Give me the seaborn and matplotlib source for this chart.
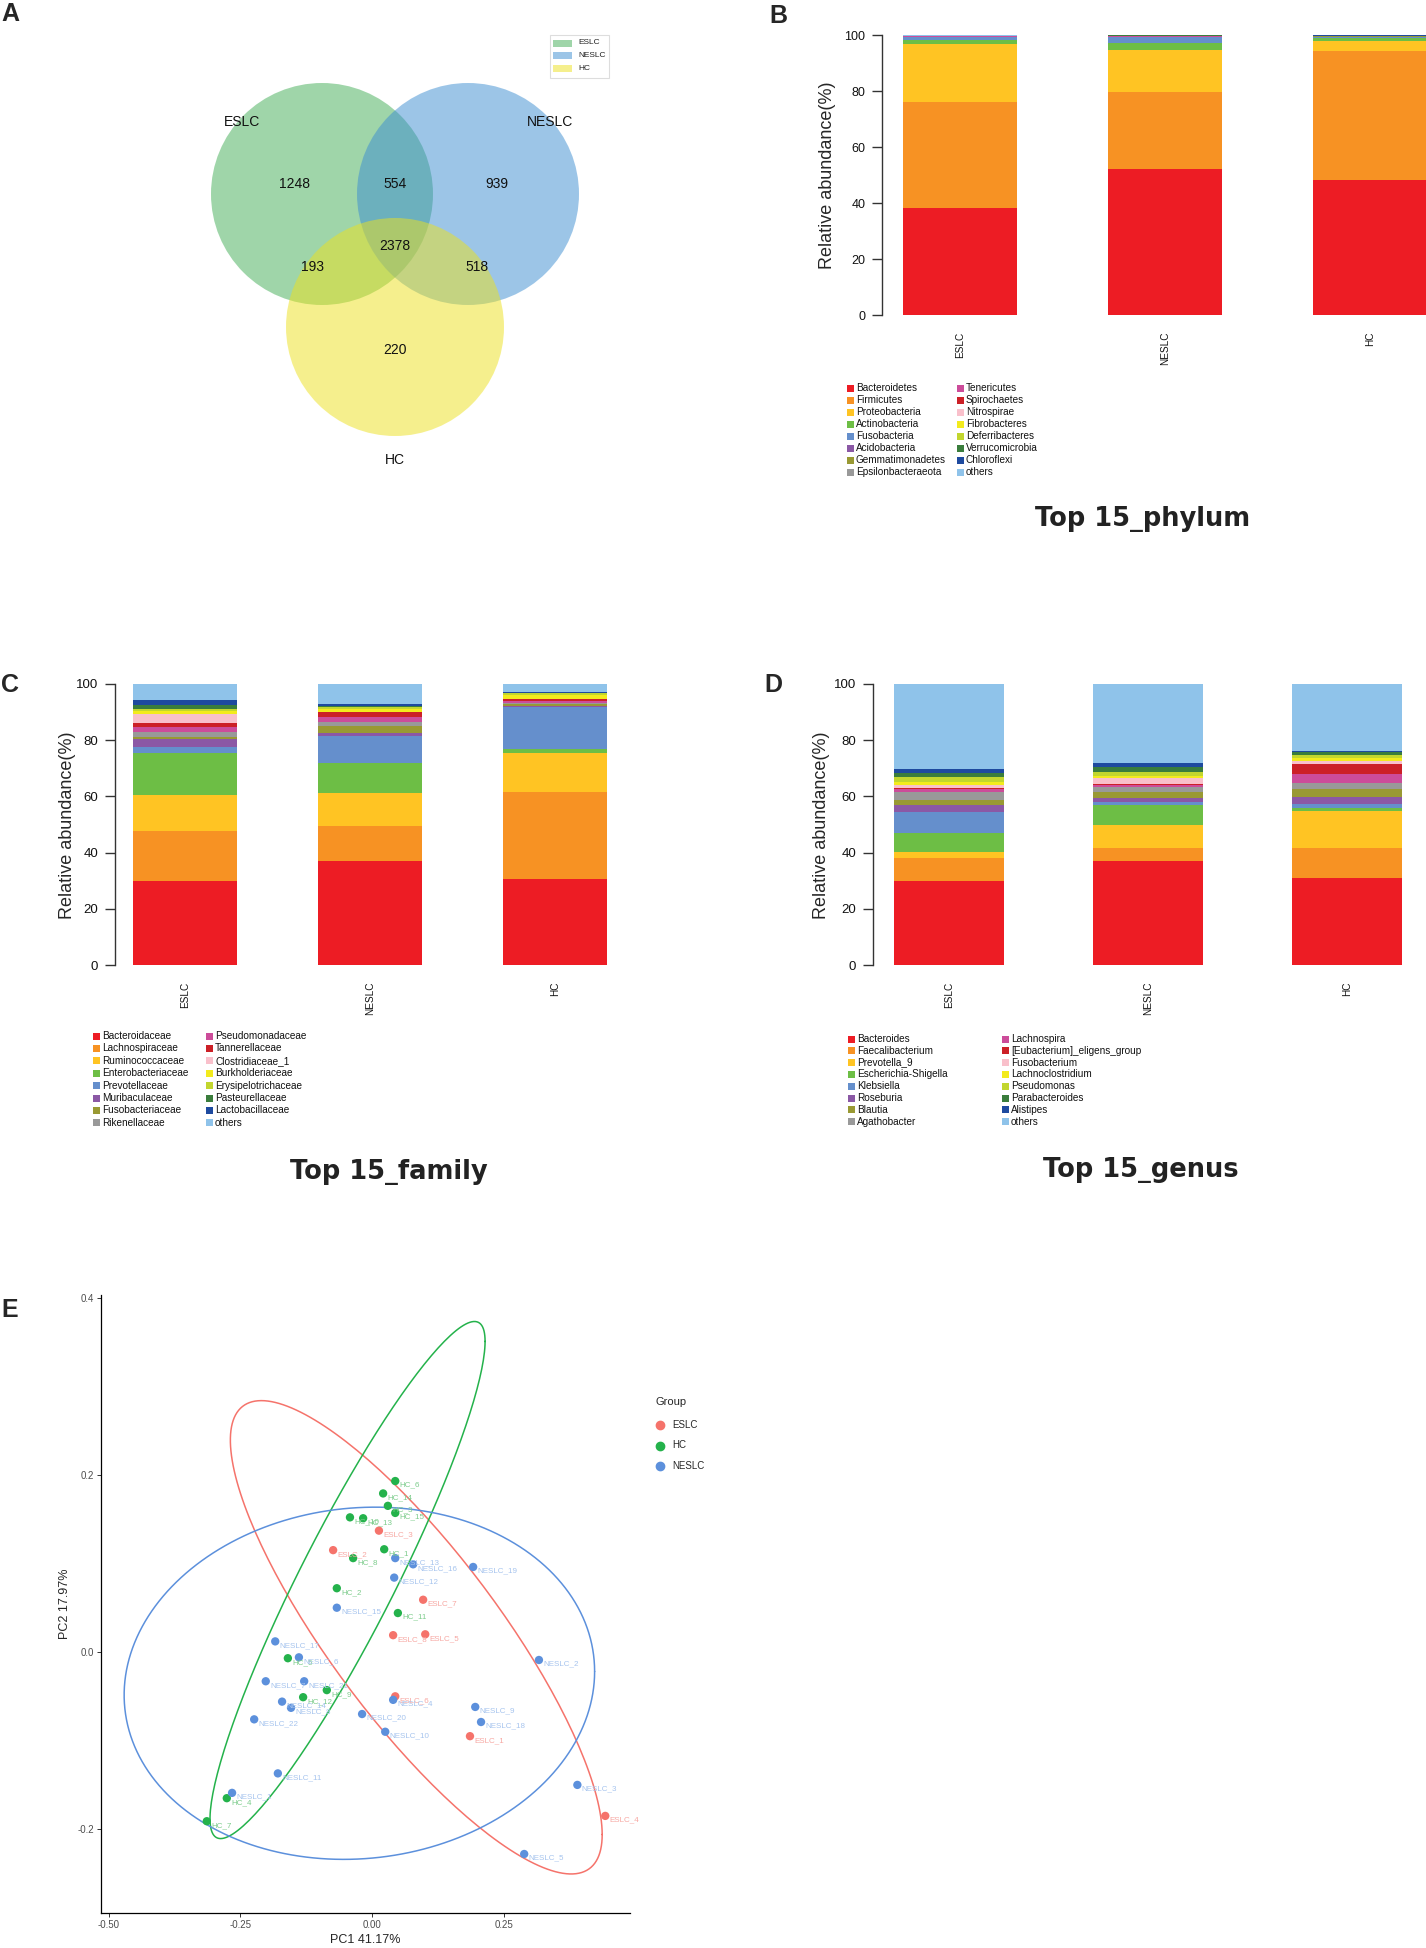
import numpy as np
import pandas as pd
import matplotlib
matplotlib.use("Agg")
import matplotlib.pyplot as plt
from matplotlib.patches import Circle, Rectangle
from matplotlib.lines import Line2D
import seaborn as sns

# ---------------- data ----------------
groups = ["ESLC", "NESLC", "HC"]

# Venn counts (A)
venn_sets = ["ESLC", "NESLC", "HC"]
venn_regions = ["ESLC", "ESLC&NESLC", "NESLC", "ESLC&NESLC&HC", "ESLC&HC", "NESLC&HC", "HC"]
venn_counts = [1248, 554, 939, 2378, 193, 518, 220]

# Top 15 phylum (B), relative abundance %
phylum_taxa = ["Bacteroidetes", "Firmicutes", "Proteobacteria", "Actinobacteria", "Fusobacteria",
               "Acidobacteria", "Gemmatimonadetes", "Epsilonbacteraeota", "Tenericutes", "Spirochaetes",
               "Nitrospirae", "Fibrobacteres", "Deferribacteres", "Verrucomicrobia", "Chloroflexi", "others"]
phylum_eslc = [38.1, 37.9, 20.8, 1.4, 1.1, 0.05, 0.05, 0.05, 0.1, 0.05, 0.02, 0.02, 0.02, 0.1, 0.03, 0.21]
phylum_neslc = [52.0, 27.8, 14.8, 2.4, 2.2, 0.05, 0.05, 0.05, 0.3, 0.05, 0.02, 0.02, 0.02, 0.1, 0.02, 0.12]
phylum_hc = [48.2, 46.0, 3.8, 0.9, 0.5, 0.05, 0.05, 0.05, 0.1, 0.05, 0.02, 0.02, 0.02, 0.05, 0.02, 0.17]

# Top 15 family (C)
family_taxa = ["Bacteroidaceae", "Lachnospiraceae", "Ruminococcaceae", "Enterobacteriaceae", "Prevotellaceae",
               "Muribaculaceae", "Fusobacteriaceae", "Rikenellaceae", "Pseudomonadaceae", "Tannerellaceae",
               "Clostridiaceae_1", "Burkholderiaceae", "Erysipelotrichaceae", "Pasteurellaceae",
               "Lactobacillaceae", "others"]
family_eslc = [29.9, 17.8, 12.8, 14.8, 2.4, 2.6, 0.9, 1.8, 1.6, 1.4, 3.3, 1.1, 0.7, 1.3, 1.9, 5.7]
family_neslc = [37.1, 12.5, 11.5, 10.7, 9.7, 0.9, 2.8, 1.4, 1.8, 1.5, 0.2, 0.9, 0.9, 0.4, 0.7, 7.0]
family_hc = [30.5, 31.0, 13.8, 1.6, 15.0, 0.4, 0.5, 0.5, 0.5, 0.7, 0.3, 1.3, 0.6, 0.2, 0.2, 2.9]

# Top 15 genus (D)
genus_taxa = ["Bacteroides", "Faecalibacterium", "Prevotella_9", "Escherichia-Shigella", "Klebsiella",
              "Roseburia", "Blautia", "Agathobacter", "Lachnospira", "[Eubacterium]_eligens_group",
              "Fusobacterium", "Lachnoclostridium", "Pseudomonas", "Parabacteroides", "Alistipes", "others"]
genus_eslc = [29.9, 8.3, 1.9, 6.8, 7.7, 2.3, 1.8, 3.0, 0.8, 0.6, 0.9, 1.2, 1.8, 1.2, 1.6, 30.2]
genus_neslc = [37.1, 4.6, 8.1, 7.1, 1.2, 1.4, 2.2, 1.8, 0.5, 0.3, 2.1, 0.9, 1.5, 1.5, 1.5, 28.2]
genus_hc = [30.8, 10.7, 13.3, 1.0, 1.5, 2.5, 3.0, 2.0, 3.2, 3.5, 1.0, 1.2, 1.2, 0.8, 0.6, 23.7]

# PCoA (E)
pc_sample = ["ESLC_1", "ESLC_2", "ESLC_3", "ESLC_4", "ESLC_5", "ESLC_6", "ESLC_7", "ESLC_8",
             "HC_1", "HC_2", "HC_3", "HC_4", "HC_5", "HC_6", "HC_7", "HC_8", "HC_9", "HC_10",
             "HC_11", "HC_12", "HC_13", "HC_14", "HC_15",
             "NESLC_1", "NESLC_2", "NESLC_3", "NESLC_4", "NESLC_5", "NESLC_6", "NESLC_7", "NESLC_8",
             "NESLC_9", "NESLC_10", "NESLC_11", "NESLC_12", "NESLC_13", "NESLC_14", "NESLC_15",
             "NESLC_16", "NESLC_17", "NESLC_18", "NESLC_19", "NESLC_20", "NESLC_21", "NESLC_22"]
pc1 = [0.186, -0.074, 0.013, 0.443, 0.101, 0.044, 0.097, 0.040,
       0.023, -0.067, 0.030, -0.276, -0.160, 0.044, -0.314, -0.036, -0.086, -0.042,
       0.049, -0.131, -0.017, 0.021, 0.044,
       -0.266, 0.317, 0.390, 0.040, 0.289, -0.139, -0.202, -0.154,
       0.196, 0.025, -0.179, 0.042, 0.044, -0.171, -0.067,
       0.078, -0.184, 0.207, 0.192, -0.019, -0.129, -0.224]
pc2 = [-0.095, 0.115, 0.137, -0.185, 0.020, -0.050, 0.059, 0.019,
       0.116, 0.072, 0.165, -0.165, -0.007, 0.193, -0.191, 0.106, -0.043, 0.152,
       0.044, -0.051, 0.151, 0.179, 0.157,
       -0.159, -0.009, -0.150, -0.054, -0.228, -0.006, -0.033, -0.063,
       -0.062, -0.090, -0.137, 0.084, 0.106, -0.056, 0.050,
       0.099, 0.012, -0.079, 0.096, -0.070, -0.033, -0.076]

# ---------------- style ----------------
taxa_palette = ["#ED1C24", "#F79223", "#FFC423", "#6DBE45", "#658FCC", "#8B58A5", "#999933", "#999999",
                "#CC4C9A", "#CC2027", "#F9C0CB", "#F3EB1D", "#C2D62E", "#3A7D3C", "#1E4A9F", "#8FC3EA"]
venn_colors = {"ESLC": "#41AD55", "NESLC": "#3B8DD1", "HC": "#EDE11D"}
group_colors = {"ESLC": "#F5736B", "HC": "#24B24B", "NESLC": "#5C90DC"}
label_colors = {"ESLC": "#F7A7A2", "HC": "#7DCC8C", "NESLC": "#A6C4EE"}

sns.set_style("white")
plt.rcParams["font.family"] = ["Liberation Sans", "DejaVu Sans"]

W, H = 1426, 1948
fig = plt.figure(figsize=(W / 100, H / 100), dpi=100)


def box(left, top, right, bottom):
    return fig.add_axes([left / W, 1 - bottom / H, (right - left) / W, (bottom - top) / H])


def ftext(x, y, s, **kw):
    fig.text(x / W, 1 - y / H, s, **kw)


# panel letters
for letter, (lx, ly) in {"A": (10, 14), "B": (778, 16), "C": (10, 685), "D": (773, 685), "E": (10, 1310)}.items():
    ftext(lx, ly, letter, fontsize=18, fontweight="bold", ha="center", va="center")

# ---------------- A: Venn ----------------
ax = box(0, 0, 640, 520)
ax.set_xlim(0, 640)
ax.set_ylim(520, 0)
ax.axis("off")
circle_xy = {"ESLC": (322, 194, 111), "NESLC": (468, 194, 111), "HC": (395, 327, 109)}
for name in venn_sets:
    cx, cy, r = circle_xy[name]
    ax.add_patch(Circle((cx, cy), r, facecolor=venn_colors[name], alpha=0.5, linewidth=0))
region_xy = {"ESLC": (294, 184), "ESLC&NESLC": (395, 184), "NESLC": (497, 184),
             "ESLC&NESLC&HC": (395, 246), "ESLC&HC": (313, 267), "NESLC&HC": (477, 267), "HC": (395, 350)}
for reg, cnt in zip(venn_regions, venn_counts):
    ax.text(*region_xy[reg], str(cnt), fontsize=10, ha="center", va="center", color="#111111")
for name, (tx, ty) in {"ESLC": (242, 122), "NESLC": (550, 122), "HC": (395, 460)}.items():
    ax.text(tx, ty, name, fontsize=10, ha="center", va="center", color="#111111")
# venn legend
ax.add_patch(Rectangle((550, 35), 59, 43, facecolor="white", edgecolor="#dddddd", linewidth=0.8))
for k, name in enumerate(venn_sets):
    yy = 43 + k * 12.5
    ax.add_patch(Rectangle((553, yy - 3.5), 19, 7, facecolor=venn_colors[name], alpha=0.5, linewidth=0))
    ax.text(578, yy, name, fontsize=6, ha="left", va="center", color="#222222")


# ---------------- B, C, D: stacked bars ----------------
def stacked_panel(ax, taxa, eslc, neslc, hc, width, xlim, ticksize):
    table = pd.DataFrame([eslc, neslc, hc], index=groups, columns=taxa)
    tops = table.cumsum(axis=1)
    for k in reversed(range(len(taxa))):
        sns.barplot(x=groups, y=tops.iloc[:, k].values, color=taxa_palette[k], width=width,
                    saturation=1, linewidth=0, errorbar=None, ax=ax)
    ax.set_xlim(*xlim)
    ax.set_ylim(0, 100)
    ax.set_xlabel("")
    ax.set_ylabel("")
    sns.despine(ax=ax, bottom=True)
    ax.spines["left"].set_color("#333333")
    ax.spines["left"].set_linewidth(1.0)
    ax.set_yticks([0, 20, 40, 60, 80, 100])
    ax.tick_params(axis="y", left=True, length=7, width=1, color="#333333", pad=5,
                   labelsize=ticksize, labelcolor="#111111")
    ax.tick_params(axis="x", bottom=False, length=0, pad=12, labelsize=7.2, labelrotation=90,
                   labelcolor="#111111")


def taxa_legend(x0, y0, dy, dxcol, taxa):
    for k, lab in enumerate(taxa):
        col, row = divmod(k, 8)
        x = x0 + col * dxcol
        y = y0 + row * dy
        fig.patches.append(Rectangle((x / W, 1 - (y + 3.5) / H), 7 / W, 7 / H, transform=fig.transFigure,
                                     facecolor=taxa_palette[k], linewidth=0, figure=fig))
        ftext(x + 9, y, lab, fontsize=7.2, ha="left", va="center", color="#111111")


title_kw = dict(fontsize=18.5, fontweight="bold", family="DejaVu Sans", ha="center", va="center",
                color="#222222")

axB = box(882, 35, 1426, 315)
stacked_panel(axB, phylum_taxa, phylum_eslc, phylum_neslc, phylum_hc, 0.556, (-0.38, 2.273), 9)
ftext(828, 175, "Relative abundance(%)", fontsize=13, rotation=90, ha="center", va="center")
taxa_legend(847, 388, 12, 110, phylum_taxa)
ftext(1143, 519, "Top 15_phylum", **title_kw)

axC = box(115, 684, 610, 965)
stacked_panel(axC, family_taxa, family_eslc, family_neslc, family_hc, 0.562, (-0.378, 2.297), 9.5)
ftext(67, 825, "Relative abundance(%)", fontsize=13, rotation=90, ha="center", va="center")
taxa_legend(93, 1036, 12.4, 113, family_taxa)
ftext(389, 1172, "Top 15_family", **title_kw)

axD = box(873, 684, 1426, 965)
stacked_panel(axD, genus_taxa, genus_eslc, genus_neslc, genus_hc, 0.553, (-0.382, 2.397), 9.5)
ftext(822, 825, "Relative abundance(%)", fontsize=13, rotation=90, ha="center", va="center")
taxa_legend(848, 1039, 11.8, 154, genus_taxa)
ftext(1141, 1170, "Top 15_genus", **title_kw)


# ---------------- E: PCoA ----------------
def cov_trob(pts, nu=5, maxit=25, tol=0.01):
    # robust t covariance as in MASS::cov.trob (used by ggplot stat_ellipse)
    n, p = pts.shape
    wt = np.ones(n)
    loc = pts.mean(axis=0)
    w = np.sqrt(wt)
    for _ in range(maxit):
        w0 = w
        X = pts - loc
        _, d, vt = np.linalg.svd(np.sqrt(w / w.sum())[:, None] * X, full_matrices=False)
        wX = X @ vt.T @ np.diag(1 / d)
        Q = (wX ** 2).sum(axis=1)
        w = wt * (nu + p) / (nu + Q)
        loc = (w[:, None] * pts).sum(axis=0) / w.sum()
        if np.all(np.abs(w - w0) < tol):
            break
    cov = (np.sqrt(w)[:, None] * X).T @ (np.sqrt(w)[:, None] * X) / wt.sum()
    return loc, cov


pcoa = pd.DataFrame({"sample": pc_sample, "PC1": pc1, "PC2": pc2})
pcoa["Group"] = pcoa["sample"].str.split("_").str[0]

axE = box(101, 1295, 630, 1913)
theta = np.linspace(0, 2 * np.pi, 200)
circle = np.column_stack([np.cos(theta), np.sin(theta)])
for g in ["ESLC", "HC", "NESLC"]:
    pts = pcoa.loc[pcoa["Group"] == g, ["PC1", "PC2"]].to_numpy()
    n = len(pts)
    center, cov = cov_trob(pts)
    dfd = n - 1
    fq = dfd / 2 * (0.05 ** (-2 / dfd) - 1)  # qf(0.95, 2, dfd)
    radius = np.sqrt(2 * fq)
    ell = center + radius * circle @ np.linalg.cholesky(cov).T
    axE.plot(ell[:, 0], ell[:, 1], color=group_colors[g], linewidth=1.1)

sns.scatterplot(data=pcoa, x="PC1", y="PC2", hue="Group", palette=group_colors, s=36,
                linewidth=0, legend=False, ax=axE, zorder=3)
for _, row in pcoa.iterrows():
    axE.annotate(row["sample"], (row["PC1"], row["PC2"]), xytext=(3, -3), textcoords="offset points",
                 fontsize=5.8, ha="left", va="center", color=label_colors[row["Group"]], zorder=4)

axE.set_xlim(-0.515, 0.490)
axE.set_ylim(-0.2946, 0.403)
axE.set_xticks([-0.50, -0.25, 0.00, 0.25])
axE.set_xticklabels(["-0.50", "-0.25", "0.00", "0.25"])
axE.set_yticks([-0.2, 0.0, 0.2, 0.4])
axE.set_yticklabels(["-0.2", "0.0", "0.2", "0.4"])
sns.despine(ax=axE)
for sp in ["left", "bottom"]:
    axE.spines[sp].set_color("black")
    axE.spines[sp].set_linewidth(0.9)
axE.tick_params(left=True, bottom=True, length=3, width=0.7, color="#333333", labelsize=7,
                labelcolor="#4D4D4D", pad=2)
axE.set_xlabel("")
axE.set_ylabel("")
ftext(365, 1940, "PC1 41.17%", fontsize=9, ha="center", va="center")
ftext(65, 1604, "PC2 17.97%", fontsize=9, rotation=90, ha="center", va="center")

# group legend
ftext(655, 1402, "Group", fontsize=8, ha="left", va="center")
for k, g in enumerate(["ESLC", "HC", "NESLC"]):
    yy = 1425 + k * 20.5
    fig.lines.append(Line2D([660 / W], [1 - yy / H], marker="o", markersize=6, color=group_colors[g],
                            linestyle="none", transform=fig.transFigure, figure=fig))
    ftext(672, yy, g, fontsize=7, ha="left", va="center")

fig.savefig("out.png", dpi=100)
